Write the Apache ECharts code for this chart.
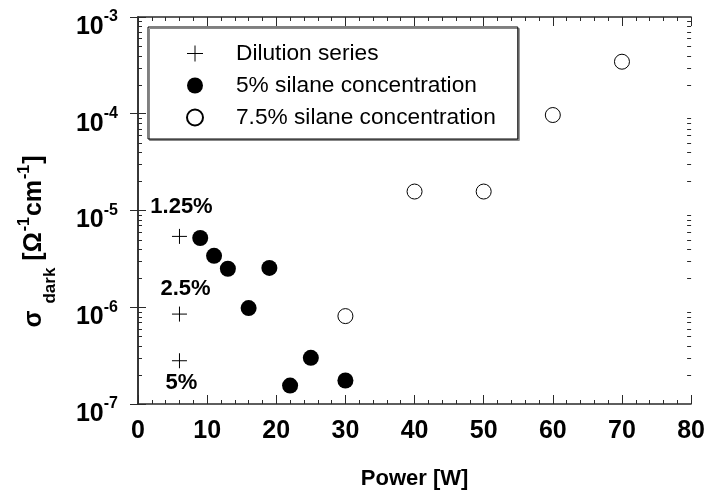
<!DOCTYPE html>
<html><head><meta charset="utf-8">
<script src="https://cdn.jsdelivr.net/npm/echarts@6/dist/echarts.min.js"></script>
<style>html,body{margin:0;padding:0;background:#fff}#c{width:708px;height:495px}</style>
</head><body><div id="c"></div>
<script>
// ---- data ----
const xTickValues = [0, 10, 20, 30, 40, 50, 60, 70, 80];
const yDecades = [-7, -6, -5, -4, -3];

const powerDilution = [6, 6, 6];
const sigmaDilution = [5.4e-6, 8.5e-7, 2.8e-7];
const dilutionLabels = ['1.25%', '2.5%', '5%'];

const power5 = [9, 11, 13, 16, 19, 22, 25, 30];
const sigma5 = [5.2e-6, 3.4e-6, 2.5e-6, 9.8e-7, 2.55e-6, 1.55e-7, 3.0e-7, 1.75e-7];

const power75 = [30, 40, 50, 60, 70];
const sigma75 = [8.1e-7, 1.57e-5, 1.57e-5, 9.7e-5, 3.45e-4];

const seriesNames = ['Dilution series', '5% silane concentration', '7.5% silane concentration'];

// ---- build ----
const FONT = 'Liberation Sans, Arial, Helvetica, sans-serif';
const AX = '#2a2a2a';
const labelPlacement = [
  {position: 'top', distance: 10, offset: [2, 0]},
  {position: 'top', distance: 6, offset: [6, 0]},
  {position: 'bottom', distance: 3, offset: [2, 0]}
];
const labelStyle = {show: true, fontSize: 22, fontWeight: 'bold', color: '#000', fontFamily: FONT, lineHeight: 22, opacity: 1};
const dilutionData = powerDilution.map((p, i) => ({
  value: [p, sigmaDilution[i]],
  label: Object.assign({}, labelStyle, {formatter: dilutionLabels[i]}, labelPlacement[i])
}));
const data5 = power5.map((p, i) => [p, sigma5[i]]);
const data75 = power75.map((p, i) => [p, sigma75[i]]);

const minorLog = [];
for (let e = yDecades[0]; e < yDecades[yDecades.length - 1]; e++) {
  for (let k = 2; k <= 9; k++) minorLog.push([0, k * Math.pow(10, e)]);
}

const xMin = xTickValues[0], xMax = xTickValues[xTickValues.length - 1];
const yMin = Math.pow(10, yDecades[0]), yMax = Math.pow(10, yDecades[yDecades.length - 1]);

const chart = echarts.init(document.getElementById('c'), null, {renderer: 'canvas'});

const commonX = {
  type: 'value', min: xMin, max: xMax, interval: 10,
  axisLine: {show: true, lineStyle: {color: AX, width: 1.5}},
  axisTick: {show: true, inside: true, length: 9, lineStyle: {color: AX, width: 1}},
  minorTick: {show: true, splitNumber: 5, length: 4, lineStyle: {color: AX, width: 1}},
  splitLine: {show: false}
};
const commonY = {
  type: 'log', logBase: 10, min: yMin, max: yMax, splitNumber: 4,
  axisLine: {show: true, lineStyle: {color: AX, width: 1.5}},
  axisTick: {show: true, inside: true, length: 8, lineStyle: {color: AX, width: 1}},
  splitLine: {show: false}
};

const option = {
  backgroundColor: '#fff',
  animation: false,
  grid: {left: 138, right: 16, top: 17, bottom: 90, containLabel: false},
  xAxis: [
    Object.assign({}, commonX, {
      position: 'bottom',
      axisLabel: {show: true, fontSize: 25, fontWeight: 'bold', color: '#000', fontFamily: FONT, margin: 15},
      name: 'Power [W]', nameLocation: 'middle', nameGap: 64,
      nameTextStyle: {fontSize: 22, fontWeight: 'bold', color: '#000', fontFamily: FONT}
    }),
    Object.assign({}, commonX, {position: 'top', axisLabel: {show: false}})
  ],
  yAxis: [
    Object.assign({}, commonY, {
      position: 'left',
      axisLabel: {
        show: true, margin: 20, color: '#000',
        formatter: v => '{b|10}{s|' + Math.round(Math.log10(v)) + '}',
        rich: {
          b: {fontSize: 25, fontWeight: 'bold', fontFamily: FONT, color: '#000', lineHeight: 45, verticalAlign: 'bottom'},
          s: {fontSize: 16, fontWeight: 'bold', fontFamily: FONT, color: '#000', lineHeight: 16, verticalAlign: 'middle'}
        }
      },
      name: '{m|σ} {sub|dark} {b|[Ω}{sup|-1}{b|cm}{sup|-1}{b|]}',
      nameLocation: 'middle', nameRotate: 90, nameGap: 79,
      nameTextStyle: {
        fontSize: 25, fontWeight: 'bold', fontFamily: FONT, color: '#000', lineHeight: 50,
        padding: [0, 62, 0, 0],
        rich: {
          m: {fontSize: 25, fontFamily: FONT, color: '#000', lineHeight: 50, verticalAlign: 'middle'},
          b: {fontSize: 25, fontWeight: 'bold', fontFamily: FONT, color: '#000', lineHeight: 50, verticalAlign: 'middle'},
          sub: {fontSize: 17, fontWeight: 'bold', fontFamily: FONT, color: '#000', lineHeight: 26, verticalAlign: 'bottom'},
          sup: {fontSize: 16, fontWeight: 'bold', fontFamily: FONT, color: '#000', lineHeight: 16, verticalAlign: 'top', padding: [8, 1, 0, 1]}
        }
      }
    }),
    Object.assign({}, commonY, {position: 'right', axisLabel: {show: false}})
  ],
  legend: {
    orient: 'vertical', left: 148, top: 27,
    data: [
      {name: seriesNames[0], itemStyle: {borderWidth: 1, borderColor: '#000'}},
      {name: seriesNames[1]},
      {name: seriesNames[2]}
    ],
    itemWidth: 72, itemHeight: 16, itemGap: 9,
    padding: [15, 22, 10, 38],
    borderColor: '#000', borderWidth: 1, backgroundColor: '#fff',
    shadowColor: '#888', shadowOffsetX: 1.5, shadowOffsetY: 1.5, shadowBlur: 0,
    textStyle: {fontSize: 22.7, color: '#000', fontFamily: FONT},
    selectedMode: false
  },
  series: [
    {
      name: seriesNames[0], type: 'scatter', xAxisIndex: 0, yAxisIndex: 0,
      symbol: 'path://M0,7.5L15,7.5M7.5,0L7.5,15', symbolSize: 15, symbolKeepAspect: true,
      itemStyle: {color: 'rgba(0,0,0,0)', borderColor: '#000', borderWidth: 1, opacity: 1},
      label: labelStyle,
      data: dilutionData, z: 5
    },
    {
      name: seriesNames[1], type: 'scatter', xAxisIndex: 0, yAxisIndex: 0,
      symbol: 'circle', symbolSize: 16,
      itemStyle: {color: '#000', borderColor: '#000', borderWidth: 0, opacity: 1},
      data: data5, z: 5
    },
    {
      name: seriesNames[2], type: 'scatter', xAxisIndex: 0, yAxisIndex: 0,
      symbol: 'circle', symbolSize: 15,
      itemStyle: {color: '#fff', borderColor: '#000', borderWidth: 1, opacity: 1},
      data: data75, z: 5
    },
    {
      type: 'custom', xAxisIndex: 0, yAxisIndex: 0, silent: true, clip: false, z: 3,
      data: minorLog,
      renderItem: function (params, api) {
        const v = api.value(1);
        const p = api.coord([xMin, v]);
        const q = api.coord([xMax, v]);
        const y = Math.round(p[1]) + 0.5;
        return {type: 'group', children: [
          {type: 'line', shape: {x1: p[0], y1: y, x2: p[0] + 4, y2: y}, style: {stroke: AX, lineWidth: 1}},
          {type: 'line', shape: {x1: q[0], y1: y, x2: q[0] - 4, y2: y}, style: {stroke: AX, lineWidth: 1}}
        ]};
      }
    }
  ]
};
chart.setOption(option);
</script>
</body></html>
